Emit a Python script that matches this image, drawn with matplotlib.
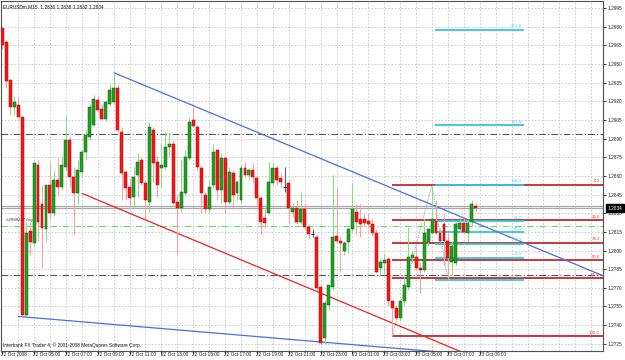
import matplotlib
matplotlib.use("Agg")
import matplotlib.pyplot as plt
from matplotlib.patches import Rectangle
from matplotlib.transforms import blended_transform_factory

plt.rcParams["font.family"] = ["Liberation Sans", "DejaVu Sans"]

# ---------------- data (EURUSDm, M15) ----------------
opens = [1.2979, 1.2968, 1.2937, 1.2915, 1.2917, 1.2907, 1.2748, 1.2816, 1.2806, 1.2869,
         1.2837, 1.2817, 1.2853, 1.2830, 1.2857, 1.2851, 1.2867, 1.2889, 1.2859, 1.2846,
         1.2863, 1.2879, 1.2891, 1.2901, 1.2921, 1.2914, 1.2906, 1.2918, 1.2919, 1.2931,
         1.2895, 1.2863, 1.2851, 1.2843, 1.2861, 1.2873, 1.2854, 1.2839, 1.2897, 1.2871,
         1.2866, 1.2867, 1.2883, 1.2886, 1.2839, 1.2834, 1.2846, 1.2874, 1.2905, 1.2899,
         1.2866, 1.2845, 1.2833, 1.2853, 1.2881, 1.2849, 1.2874, 1.2839, 1.2862, 1.2846,
         1.2841, 1.2866, 1.2861, 1.2865, 1.2858, 1.2842, 1.2826, 1.2830, 1.2854, 1.2866,
         1.2858, 1.2851, 1.2854, 1.2831, 1.2834, 1.2823, 1.2833, 1.2819, 1.2813, 1.2811,
         1.2771, 1.2730, 1.2756, 1.2771, 1.2812, 1.2808, 1.2800, 1.2807, 1.2817, 1.2831,
         1.2825, 1.2825, 1.2824, 1.2821, 1.2814, 1.2786, 1.2790, 1.2793, 1.2759, 1.2754,
         1.2746, 1.2759, 1.2771, 1.2794, 1.2795, 1.2786, 1.2784, 1.2807, 1.2814, 1.2824,
         1.2814, 1.2821, 1.2808, 1.2791, 1.2790, 1.2817, 1.2822, 1.2814, 1.2823, 1.2836]
highs = [1.2979, 1.2969, 1.2938, 1.2924, 1.2923, 1.2908, 1.2823, 1.2823, 1.2871, 1.2873,
         1.2853, 1.2853, 1.2871, 1.2864, 1.2874, 1.2876, 1.2909, 1.2892, 1.2867, 1.2873,
         1.2881, 1.2897, 1.2918, 1.2925, 1.2924, 1.2918, 1.2921, 1.2934, 1.2943, 1.2933,
         1.2899, 1.2865, 1.2858, 1.2867, 1.2878, 1.2875, 1.2857, 1.2903, 1.2899, 1.2877,
         1.2886, 1.2895, 1.2895, 1.2889, 1.2845, 1.2873, 1.2881, 1.2907, 1.2916, 1.2901,
         1.2869, 1.2847, 1.2857, 1.2886, 1.2882, 1.2878, 1.2875, 1.2867, 1.2865, 1.2857,
         1.2869, 1.2871, 1.2866, 1.2870, 1.2860, 1.2844, 1.2833, 1.2871, 1.2871, 1.2869,
         1.2862, 1.2867, 1.2857, 1.2838, 1.2841, 1.2847, 1.2837, 1.2821, 1.2817, 1.2813,
         1.2772, 1.2760, 1.2772, 1.2861, 1.2850, 1.2812, 1.2808, 1.2818, 1.2854, 1.2837,
         1.2837, 1.2829, 1.2829, 1.2825, 1.2817, 1.2794, 1.2798, 1.2795, 1.2760, 1.2756,
         1.2760, 1.2779, 1.2819, 1.2800, 1.2802, 1.2791, 1.2826, 1.2818, 1.2853, 1.2841,
         1.2818, 1.2829, 1.2815, 1.2808, 1.2823, 1.2825, 1.2826, 1.2825, 1.2841, 1.2838]
lows = [1.2962, 1.2931, 1.2909, 1.2909, 1.2907, 1.2747, 1.2747, 1.2796, 1.2804, 1.2808,
        1.2786, 1.2808, 1.2826, 1.2828, 1.2845, 1.2849, 1.2865, 1.2851, 1.2813, 1.2837,
        1.2860, 1.2873, 1.2889, 1.2899, 1.2911, 1.2905, 1.2904, 1.2916, 1.2918, 1.2895,
        1.2841, 1.2841, 1.2833, 1.2833, 1.2843, 1.2853, 1.2825, 1.2831, 1.2855, 1.2843,
        1.2851, 1.2865, 1.2875, 1.2837, 1.2796, 1.2831, 1.2845, 1.2873, 1.2899, 1.2865,
        1.2830, 1.2830, 1.2831, 1.2850, 1.2841, 1.2838, 1.2830, 1.2837, 1.2834, 1.2841,
        1.2838, 1.2858, 1.2857, 1.2854, 1.2835, 1.2813, 1.2818, 1.2829, 1.2853, 1.2853,
        1.2851, 1.2847, 1.2822, 1.2827, 1.2821, 1.2821, 1.2817, 1.2810, 1.2811, 1.2768,
        1.2725, 1.2725, 1.2752, 1.2768, 1.2807, 1.2783, 1.2796, 1.2798, 1.2815, 1.2813,
        1.2811, 1.2820, 1.2818, 1.2812, 1.2782, 1.2780, 1.2780, 1.2755, 1.2731, 1.2744,
        1.2744, 1.2756, 1.2768, 1.2791, 1.2784, 1.2766, 1.2783, 1.2804, 1.2813, 1.2813,
        1.2807, 1.2788, 1.2776, 1.2780, 1.2788, 1.2815, 1.2813, 1.2808, 1.2820, 1.2832]
closes = [1.2965, 1.2936, 1.2915, 1.2919, 1.2907, 1.2748, 1.2814, 1.2807, 1.2870, 1.2823,
          1.2818, 1.2853, 1.2830, 1.2857, 1.2851, 1.2869, 1.2889, 1.2859, 1.2846, 1.2865,
          1.2879, 1.2893, 1.2915, 1.2922, 1.2913, 1.2906, 1.2919, 1.2929, 1.2931, 1.2897,
          1.2862, 1.2850, 1.2842, 1.2859, 1.2871, 1.2854, 1.2841, 1.2899, 1.2870, 1.2853,
          1.2869, 1.2883, 1.2886, 1.2838, 1.2834, 1.2847, 1.2875, 1.2903, 1.2900, 1.2867,
          1.2846, 1.2833, 1.2851, 1.2879, 1.2849, 1.2874, 1.2839, 1.2863, 1.2845, 1.2855,
          1.2866, 1.2861, 1.2865, 1.2859, 1.2842, 1.2823, 1.2822, 1.2855, 1.2866, 1.2857,
          1.2855, 1.2851, 1.2834, 1.2834, 1.2823, 1.2833, 1.2819, 1.2813, 1.2813, 1.2770,
          1.2726, 1.2758, 1.2772, 1.2811, 1.2808, 1.2806, 1.2806, 1.2817, 1.2833, 1.2823,
          1.2821, 1.2822, 1.2821, 1.2814, 1.2783, 1.2791, 1.2792, 1.2759, 1.2754, 1.2746,
          1.2759, 1.2772, 1.2795, 1.2796, 1.2786, 1.2784, 1.2814, 1.2817, 1.2825, 1.2814,
          1.2808, 1.2808, 1.2794, 1.2804, 1.2821, 1.2822, 1.2815, 1.2822, 1.2837, 1.2834]

time_labels = ["22 Oct 2008", "22 Oct 05:00", "22 Oct 07:00", "22 Oct 09:00", "22 Oct 11:00",
               "22 Oct 13:00", "22 Oct 15:00", "22 Oct 17:00", "22 Oct 19:00", "22 Oct 21:00",
               "22 Oct 23:00", "23 Oct 01:00", "23 Oct 03:00", "23 Oct 05:00", "23 Oct 07:00",
               "23 Oct 09:00"]
label_bars = [0, 8, 16, 24, 32, 40, 48, 56, 64, 72, 80, 88, 96, 104, 112, 120]
price_ticks = [1.2725, 1.2740, 1.2755, 1.2770, 1.2785, 1.2800, 1.2815, 1.2830, 1.2845,
               1.2860, 1.2875, 1.2890, 1.2905, 1.2920, 1.2935, 1.2950, 1.2965, 1.2980, 1.2995]

title_text = "EURUSDm,M15  1.2836 1.2838 1.2832 1.2834"
footer_text = "Interbank FX Trader 4, \u00a9 2001-2008 MetaQuotes Software Corp."
order_label = "#2998137 buy"

# trend lines (bar index, price) – drawn as rays
blue_upper = ([28, 150], [1.2943, 1.2781])
blue_lower = ([4, 104], [1.2747, 1.2720])
red_trend = ([20, 115], [1.2846, 1.2719])

# horizontal lines
sl_tp_levels = [1.2894, 1.2780]
order_price = 1.2820
bid, ask = 1.2834, 1.2836

# fibonacci retracements
fib_red_bars = (98, 108)
fib_red_low, fib_red_high = 1.2731, 1.2853
fib_red_levels = [0.0, 23.6, 38.2, 50.0, 61.8, 100.0]
fib_cyan_bars = (108, 112)
fib_cyan_high, fib_cyan_low = 1.2853, 1.2776
fib_cyan_levels = [0.0, 23.6, 38.2, 50.0, 61.8, 100.0, 161.8, 261.8]
fib_cyan_end = 131

# ---------------- figure ----------------
W, H = 625, 360
fig = plt.figure(figsize=(W / 100, H / 100), dpi=100)
fig.patch.set_facecolor("white")
ax = fig.add_axes([1 / W, 9 / H, 602 / W, 350 / H])
ax.set_facecolor("white")

x_lo = -0.3
x_hi = x_lo + 602 / 3.98
y_top, y_bot = 1.30006, 1.27192
ax.set_xlim(x_lo, x_hi)
ax.set_ylim(y_bot, y_top)

FS = 3.4
grid_kw = dict(color="#c4c4c4", lw=0.6, ls=(0, (2, 2)), zorder=0)
for b in range(4, 152, 4):
    ax.axvline(b, **grid_kw)
for p in price_ticks:
    ax.axhline(p, **grid_kw)

# horizontal lines
for p in sl_tp_levels:
    ax.axhline(p, color="#555555", lw=0.8, ls=(0, (6, 2, 1, 2)), zorder=1)
ax.axhline(order_price, color="#66dd66", lw=0.8, ls=(0, (6, 2, 1, 2)), zorder=1)
ax.axhline(bid, color="#a8a8a8", lw=0.9, zorder=1)
ax.axhline(ask, color="#a8a8a8", lw=0.9, zorder=1)
ax.text(1.0, order_price + 0.0003, order_label, fontsize=FS - 0.2, color="#444444",
        style="italic", ha="left", va="bottom", zorder=6)


def ray(anchor, color, lw=0.9):
    (b0, b1), (p0, p1) = anchor
    slope = (p1 - p0) / (b1 - b0)
    xe = 170
    ax.plot([b0, xe], [p0, p0 + slope * (xe - b0)], color=color, lw=lw, zorder=3,
            solid_capstyle="butt")


ray(blue_upper, "#4a6ee0")
ray(blue_lower, "#4a6ee0")
ray(red_trend, "#ee2222")

# red fibo
rng = fib_red_high - fib_red_low
ax.plot([fib_red_bars[0], fib_red_bars[1]], [fib_red_low, fib_red_high],
        color="#777777", lw=0.6, ls=(0, (1, 1.5)), zorder=3)
for lv in fib_red_levels:
    p = fib_red_high - lv / 100 * rng
    ax.plot([fib_red_bars[0], x_hi + 1], [p, p], color="#c8282c", lw=1.3, zorder=2,
            solid_capstyle="butt")
    ax.text(x_hi - 0.8, p + 0.00012, f"{lv:.1f}", fontsize=FS - 0.2, color="#d04040",
            ha="right", va="bottom", zorder=6)

# cyan fibo
rng2 = fib_cyan_high - fib_cyan_low
ax.plot([fib_cyan_bars[0], fib_cyan_bars[1]], [fib_cyan_high, fib_cyan_low],
        color="#777777", lw=0.6, ls=(0, (1, 1.5)), zorder=3)
for lv in fib_cyan_levels:
    p = fib_cyan_low + lv / 100 * rng2
    ax.plot([fib_cyan_bars[0] + 0.7, fib_cyan_end], [p, p], color="#30c8d8", lw=1.3,
            zorder=2, solid_capstyle="butt")
    ax.text(fib_cyan_end - 0.4, p + 0.00012, f"{lv:.1f}", fontsize=FS - 0.2,
            color="#60d0dc", ha="right", va="bottom", zorder=6)

# candles
for i, (o, h, l, c) in enumerate(zip(opens, highs, lows, closes)):
    if c > o:
        fc, ec, wc = "#22a022", "#0c5c0c", "#90d890"
    elif c < o:
        fc, ec, wc = "#f01818", "#c00000", "#f4a4a4"
    else:
        fc, ec, wc = "#000000", "#000000", "#606060"
    ax.vlines(i, l, h, color=wc, lw=0.8, zorder=4)
    if c != o:
        ax.add_patch(Rectangle((i - 0.37, min(o, c)), 0.74, abs(c - o), facecolor=fc,
                               edgecolor=ec, lw=0.35, zorder=5))
    else:
        ax.hlines(o, i - 0.45, i + 0.45, color="black", lw=0.7, zorder=5)

# axes styling
for s in ax.spines.values():
    s.set_color("#505050")
    s.set_linewidth(0.8)
ax.yaxis.tick_right()
ax.set_yticks(price_ticks)
ax.set_yticklabels([f"{p:.4f}" for p in price_ticks], fontsize=FS)
ax.tick_params(axis="y", length=2, width=0.6, pad=1.5, colors="#202020")
ax.set_xticks(label_bars)
ax.set_xticklabels([])
ax.tick_params(axis="x", length=2, width=0.6)

tr = blended_transform_factory(ax.transData, fig.transFigure)
for b, t in zip(label_bars, time_labels):
    ax.text(b - 0.2, 5.0 / H, t, transform=tr, fontsize=FS, ha="left", va="center",
            color="#202020", clip_on=False)

# current price box
trb = blended_transform_factory(ax.transAxes, ax.transData)
ax.text(1.008, bid, f"{bid:.4f}", transform=trb, fontsize=FS, color="white",
        ha="left", va="center", zorder=10, clip_on=False,
        bbox=dict(boxstyle="square,pad=0.3", fc="black", ec="black"))

ax.text(0.004, 0.992, title_text, transform=ax.transAxes, fontsize=FS, ha="left",
        va="top", color="#101010", zorder=10)
ax.text(0.004, 0.008, footer_text, transform=ax.transAxes, fontsize=FS, ha="left",
        va="bottom", color="#202020", zorder=10)

fig.savefig("out.png", dpi=100, facecolor="white")
